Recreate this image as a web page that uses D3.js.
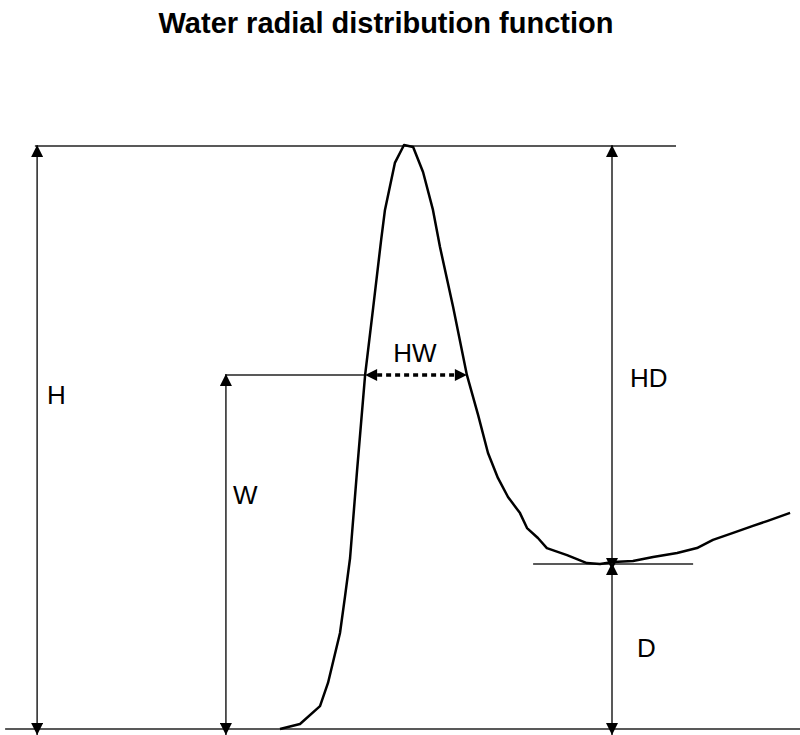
<!DOCTYPE html>
<html><head><meta charset="utf-8">
<script src="https://cdn.jsdelivr.net/npm/d3@7"></script>
<style>body{margin:0;background:#fff}svg{display:block}</style>
</head><body>
<svg id="chart" width="800" height="735"></svg>
<script>
// r (Å) and g(r)
const rValues = [2.375,2.4375,2.5,2.525,2.5625,2.578,2.594,2.616,2.641,2.666,2.691,2.703,2.734,2.7625,2.791,2.822,2.853,2.875,2.916,2.959,2.994,3.025,3.056,3.0875,3.125,3.147,3.181,3.209,3.272,3.334,3.375,3.416,3.478,3.541,3.616,3.678,3.728,3.791,3.853,3.897,3.969];
const gValues = [0,0.026,0.118,0.237,0.494,0.680,0.880,1.333,1.822,2.166,2.516,2.671,2.913,3.005,2.995,2.866,2.671,2.480,2.172,1.822,1.616,1.420,1.292,1.194,1.111,1.034,0.983,0.931,0.895,0.854,0.849,0.859,0.865,0.885,0.906,0.931,0.973,1.009,1.045,1.070,1.112];
const title = "Water radial distribution function";
const labels = ["H","W","HW","HD","D"];
// key levels
const peakG = 3.0, minG = 0.849, widthG = 1.822;
const hwLeftR = 2.641, hwRightR = 2.959;
const hArrowR = 1.616, wArrowR = 2.206, dArrowR = 3.4125;

const svg = d3.select("#chart");
const x = d3.scaleLinear().domain([1.5, 4.0]).range([0, 800]);
const y = d3.scaleLinear().domain([0, 3.0]).range([729, 146]);

svg.append("text").attr("x", 386).attr("y", 33).attr("text-anchor","middle")
  .attr("font-family","Liberation Sans, Arial, sans-serif").attr("font-weight","bold")
  .attr("font-size", 29).text(title);

const defs = svg.append("defs");
defs.append("marker").attr("id", "arr").attr("markerUnits","userSpaceOnUse")
  .attr("viewBox","0 0 12 12").attr("refX",12).attr("refY",6)
  .attr("markerWidth",12).attr("markerHeight",12).attr("orient","auto-start-reverse")
  .append("path").attr("d","M0,0 L12,6 L0,12 Z").attr("fill","#000");

const g = svg.append("g");
const guide = (x1,y1,x2,y2) => g.append("line").attr("x1",x1).attr("y1",y1).attr("x2",x2).attr("y2",y2)
  .attr("stroke","#222").attr("stroke-width",1.5);

// baseline and reference lines
guide(x(1.516), y(0), x(4.0), y(0));
guide(x(1.609), y(peakG), x(3.6125), y(peakG));
guide(x(3.166), y(minG), x(3.666), y(minG));
guide(x(wArrowR), y(widthG), x(hwLeftR), y(widthG));

// double arrows
function dbl(r, g1, g2){
  g.append("line").attr("x1",x(r)).attr("x2",x(r)).attr("y1",y(g1)-1).attr("y2",y(g2)+6)
   .attr("stroke","#222").attr("stroke-width",1.5)
   .attr("marker-start","url(#arr)").attr("marker-end","url(#arr)");
}
dbl(hArrowR, peakG, 0);
dbl(wArrowR, widthG, 0);
dbl(dArrowR, peakG, minG);
dbl(dArrowR, minG, 0);

// HW dotted arrow
g.append("line").attr("x1",x(hwLeftR)+12).attr("x2",x(hwRightR)-12).attr("y1",y(widthG)).attr("y2",y(widthG))
  .attr("stroke","#000").attr("stroke-width",3.5).attr("stroke-dasharray","5,4");
[[hwLeftR,1],[hwRightR,-1]].forEach(([r,s])=>{
  const px = x(r), py = y(widthG);
  g.append("path").attr("d",`M${px},${py} L${px+s*12},${py-6} L${px+s*12},${py+6} Z`).attr("fill","#000");
});

// curve
const pts = rValues.map((r,i)=>[r,gValues[i]]);
g.append("path").datum(pts).attr("fill","none").attr("stroke","#000").attr("stroke-width",2.5)
  .attr("stroke-linejoin","round")
  .attr("d", d3.line().x(d=>x(d[0])).y(d=>y(d[1])));

// labels
const lab = [[labels[0],47,404],[labels[1],233,504],[labels[2],415,362],[labels[3],630,387],[labels[4],637,657]];
lab.forEach(([t,lx,ly],i)=>{
  svg.append("text").attr("x",lx).attr("y",ly).attr("text-anchor", i===2?"middle":"start")
   .attr("font-family","Liberation Sans, Arial, sans-serif").attr("font-size",26).text(t);
});
</script>
</body></html>
